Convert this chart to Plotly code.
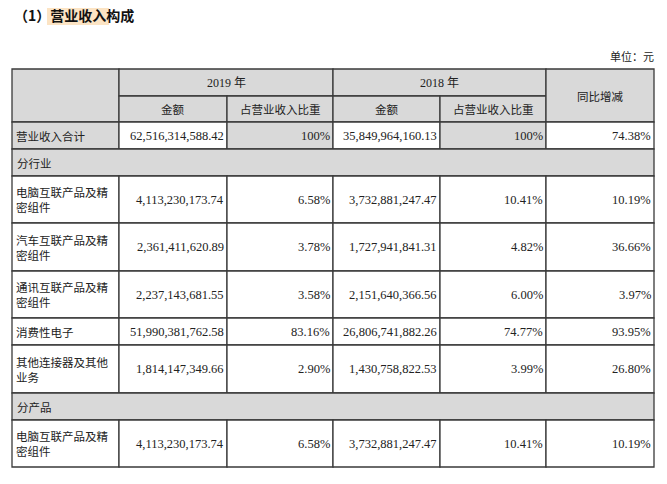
import plotly.graph_objects as go

title = "（1）营业收入构成"
unit = "单位：元"
years = ["2019 年", "2018 年"]
sub_headers = ["金额", "占营业收入比重", "金额", "占营业收入比重"]
yoy_header = "同比增减"

row_names = ["营业收入合计", "分行业", "电脑互联产品及精<br>密组件", "汽车互联产品及精<br>密组件",
             "通讯互联产品及精<br>密组件", "消费性电子", "其他连接器及其他<br>业务", "分产品",
             "电脑互联产品及精<br>密组件"]
amount_2019 = ["62,516,314,588.42", None, "4,113,230,173.74", "2,361,411,620.89", "2,237,143,681.55",
               "51,990,381,762.58", "1,814,147,349.66", None, "4,113,230,173.74"]
share_2019 = ["100%", None, "6.58%", "3.78%", "3.58%", "83.16%", "2.90%", None, "6.58%"]
amount_2018 = ["35,849,964,160.13", None, "3,732,881,247.47", "1,727,941,841.31", "2,151,640,366.56",
               "26,806,741,882.26", "1,430,758,822.53", None, "3,732,881,247.47"]
share_2018 = ["100%", None, "10.41%", "4.82%", "6.00%", "74.77%", "3.99%", None, "10.41%"]
yoy = ["74.38%", None, "10.19%", "36.66%", "3.97%", "93.95%", "26.80%", None, "10.19%"]

col_x = [12, 119, 227, 333, 440, 546, 654]
head_y = [69, 96, 122]
row_y = [122, 149, 176, 223, 271, 318, 345, 393, 420, 467]

GRAY = "#d9d9d9"
LINE = "#3a3a3a"
CJK = "Noto Sans CJK SC"
SERIF = "Liberation Serif"
OFF = 8  # page body margin

fig = go.Figure()
shapes, ann = [], []

def rect(x0, y0, x1, y1, fill):
    shapes.append(dict(type="rect", x0=x0, x1=x1, y0=y0, y1=y1, xref="x", yref="y",
                       fillcolor=fill, line=dict(color=LINE, width=1.3), layer="below"))

def text(x, y, t, anchor="center", font=CJK, size=11.5, color="#222"):
    ann.append(dict(x=x, y=y, xref="x", yref="y", text=t, showarrow=False, xanchor=anchor,
                    yanchor="middle", font=dict(family=font, size=size, color=color), align="left"))

rect(col_x[0], head_y[0], col_x[1], head_y[2], GRAY)
for i, yr in enumerate(years):
    x0, x1 = col_x[1 + 2 * i], col_x[3 + 2 * i]
    rect(x0, head_y[0], x1, head_y[1], GRAY)
    text((x0 + x1) / 2, (head_y[0] + head_y[1]) / 2, yr, font=SERIF + ", " + CJK, size=12)
for j, sh in enumerate(sub_headers):
    x0, x1 = col_x[1 + j], col_x[2 + j]
    rect(x0, head_y[1], x1, head_y[2], GRAY)
    text((x0 + x1) / 2, (head_y[1] + head_y[2]) / 2, sh)
rect(col_x[5], head_y[0], col_x[6], head_y[2], GRAY)
text((col_x[5] + col_x[6]) / 2, (head_y[0] + head_y[2]) / 2, yoy_header)

for r, name in enumerate(row_names):
    y0, y1 = row_y[r], row_y[r + 1]
    ym = (y0 + y1) / 2
    if amount_2019[r] is None:
        rect(col_x[0], y0, col_x[6], y1, GRAY)
        text(col_x[0] + 3, ym, name, anchor="left")
        continue
    total = r == 0
    rect(col_x[0], y0, col_x[1], y1, GRAY if total else "white")
    text(col_x[0] + 2, ym, name, anchor="left")
    vals = [amount_2019[r], share_2019[r], amount_2018[r], share_2018[r], yoy[r]]
    for j, v in enumerate(vals):
        fill = GRAY if (total and j in (1, 3)) else "white"
        rect(col_x[1 + j], y0, col_x[2 + j], y1, fill)
        text(col_x[2 + j] - 1, ym, v, anchor="right", font=SERIF, size=12.5)

shapes.append(dict(type="rect", x0=47, x1=109, y0=5, y1=25, xref="x", yref="y",
                   fillcolor="#fce4c4", line=dict(width=0), layer="below"))
text(12, 15, "<b>" + title + "</b>", anchor="left", size=14, color="#111")
text(656, 56, unit, anchor="right", size=11)

fig.update_layout(width=667, height=484, margin=dict(l=0, r=0, t=0, b=0),
                  paper_bgcolor="white", plot_bgcolor="white", shapes=shapes, annotations=ann,
                  xaxis=dict(range=[OFF, 667 + OFF], visible=False, fixedrange=True),
                  yaxis=dict(range=[484 + OFF, OFF], visible=False, fixedrange=True),
                  showlegend=False)
fig.write_html("out.html")
